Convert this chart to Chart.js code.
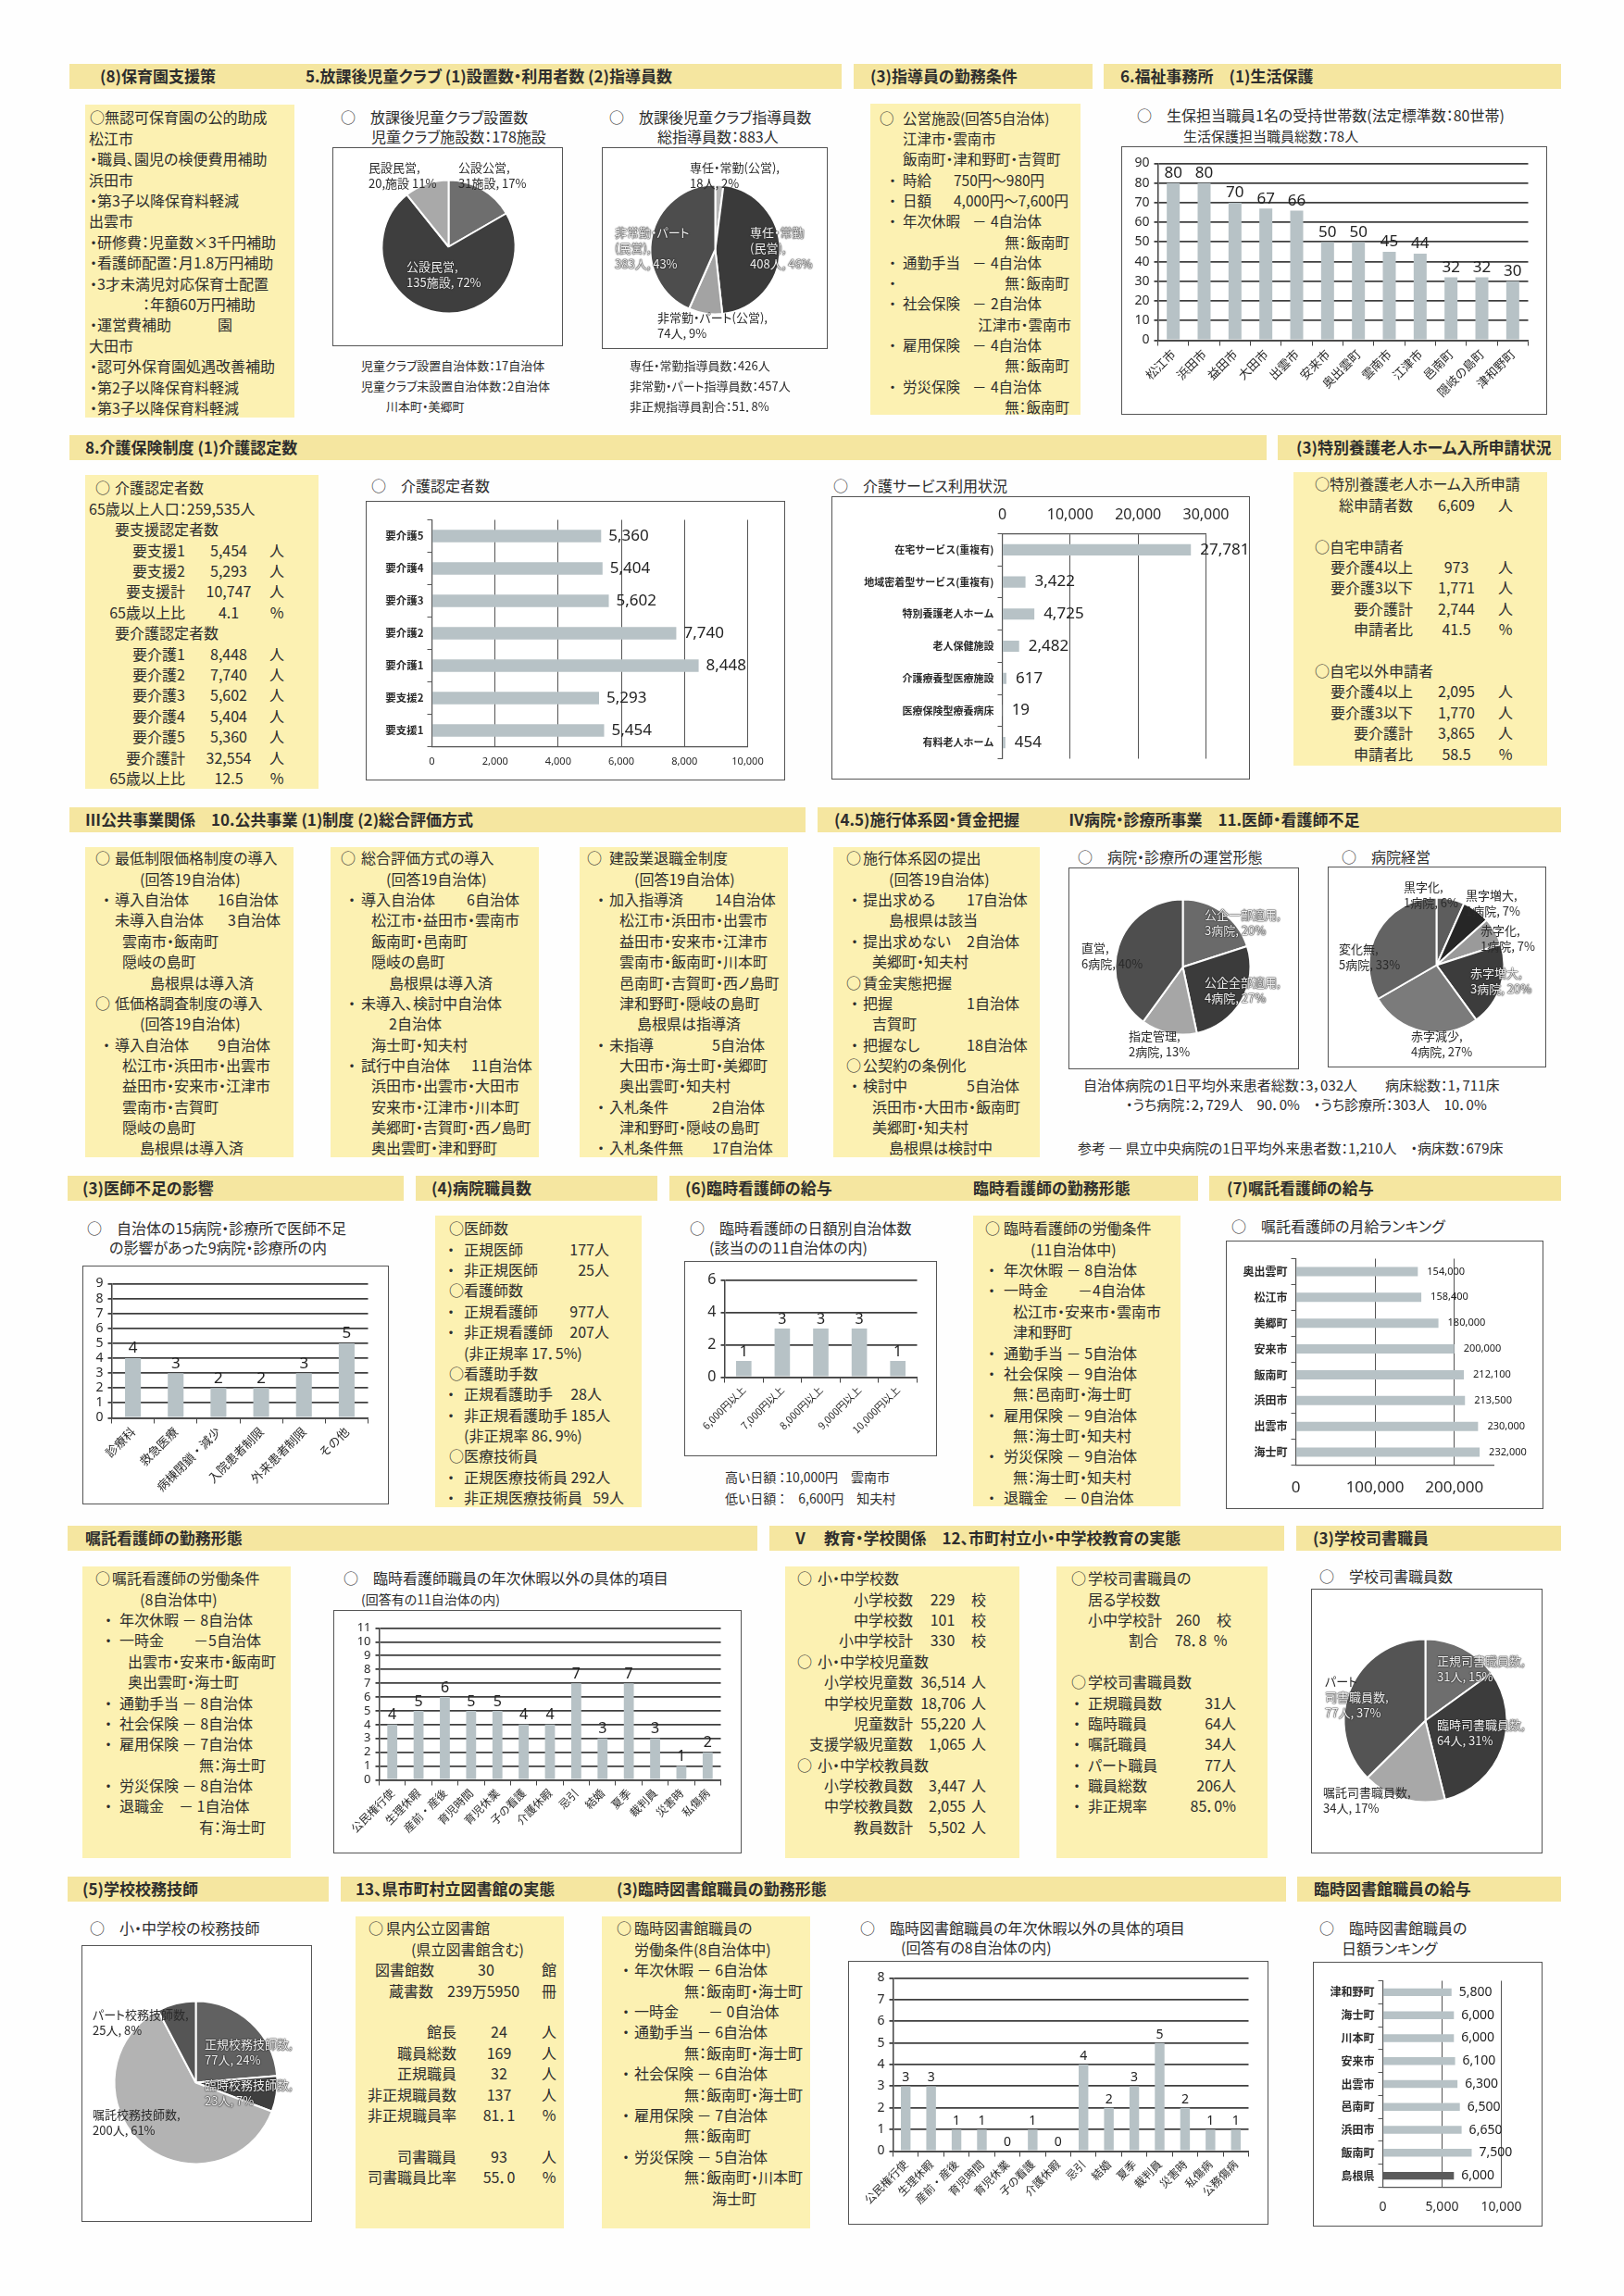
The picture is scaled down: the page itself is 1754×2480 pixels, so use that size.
<!DOCTYPE html>
<html lang="ja">
<head>
<meta charset="utf-8">
<title>自治体アンケート集計</title>
<script src="https://cdn.jsdelivr.net/npm/chart.js@4.4.1/dist/chart.umd.min.js"></script>
<style>
  html, body { margin:0; padding:0; background:#fff; }
  #page { position:relative; width:1754px; height:2480px; overflow:hidden; background:#fefefe;
          font-family:"Noto Sans CJK JP","Noto Sans",sans-serif; color:#2d2d2d; }
  .hdr { position:absolute; height:27px; background:#f5e6a0; }
  .ybox { position:absolute; background:#fcf1b2; }
  .t { position:absolute; white-space:nowrap; line-height:1.2; font-feature-settings:"palt"; }
  .cbox { position:absolute; border:1.5px solid #555; box-sizing:border-box; background:#fff; }
  .cbox canvas { display:block; }
  .pl { position:absolute; white-space:nowrap; font-size:13px; line-height:17px; font-feature-settings:"palt"; color:#2a2a2a; }
  .lt { color:#f0f0f0; text-shadow:0 0 1px #222, 0 0 1px #222, 0 0 2px #333; }
</style>
</head>
<body>
<div id="page"></div>
<script>
// ---- データ ----
const clubTypes = ['公設公営', '公設民営', '民設民営'];
const clubCounts = [31, 135, 20];
const leaderTypes = ['専任・常勤(公営)', '専任・常勤(民営)', '非常勤・パート(公営)', '非常勤・パート(民営)'];
const leaderCounts = [18, 408, 74, 383];
const welfareCities = ['松江市','浜田市','益田市','大田市','出雲市','安来市','奥出雲町','雲南市','江津市','邑南町','隠岐の島町','津和野町'];
const welfareCases = [80, 80, 70, 67, 66, 50, 50, 45, 44, 32, 32, 30];
const careLevels = ['要介護5','要介護4','要介護3','要介護2','要介護1','要支援2','要支援1'];
const careCounts = [5360, 5404, 5602, 7740, 8448, 5293, 5454];
const serviceTypes = ['在宅サービス(重複有)','地域密着型サービス(重複有)','特別養護老人ホーム','老人保健施設','介護療養型医療施設','医療保険型療養病床','有料老人ホーム'];
const serviceCounts = [27781, 3422, 4725, 2482, 617, 19, 454];
const hospForms = ['公企一部適用','公企全部適用','指定管理','直営'];
const hospFormCounts = [3, 4, 2, 6];
const hospTrends = ['黒字化','黒字増大','赤字化','赤字増大','赤字減少','変化無'];
const hospTrendCounts = [1, 1, 1, 3, 4, 5];
const shortageEffects = ['診療科','救急医療','病棟閉鎖・減少','入院患者制限','外来患者制限','その他'];
const shortageCounts = [4, 3, 2, 2, 3, 5];
const dailyPayBands = ['6,000円以上','7,000円以上','8,000円以上','9,000円以上','10,000円以上'];
const dailyPayTowns = [1, 3, 3, 3, 1];
const nurseTowns = ['奥出雲町','松江市','美郷町','安来市','飯南町','浜田市','出雲市','海士町'];
const nurseMonthly = [154000, 158400, 180000, 200000, 212100, 213500, 230000, 232000];
const leaveItems = ['公民権行使','生理休暇','産前・産後','育児時間','育児休業','子の看護','介護休暇','忌引','結婚','夏季','裁判員','災害時','私傷病'];
const nurseLeaveTowns = [4, 5, 6, 5, 5, 4, 4, 7, 3, 7, 3, 1, 2];
const librarianTypes = ['正規司書職員数','臨時司書職員数','嘱託司書職員数','パート司書職員数'];
const librarianCounts = [31, 64, 34, 77];
const custodianTypes = ['正規校務技師数','臨時校務技師数','嘱託校務技師数','パート校務技師数'];
const custodianCounts = [77, 23, 200, 25];
const libLeaveItems = ['公民権行使','生理休暇','産前・産後','育児時間','育児休業','子の看護','介護休暇','忌引','結婚','夏季','裁判員','災害時','私傷病','公務傷病'];
const libLeaveTowns = [3, 3, 1, 1, 0, 1, 0, 4, 2, 3, 5, 2, 1, 1];
const libTowns = ['津和野町','海士町','川本町','安来市','出雲市','邑南町','浜田市','飯南町','島根県'];
const libDaily = [5800, 6000, 6000, 6100, 6300, 6500, 6650, 7500, 6000];

const page = document.getElementById('page');
const BAR = '#b7c2c6';
const GRID = '#3f3f3f';
const LIGHT = 'lt';
const NUM_FONT = '"Noto Sans","Open Sans",sans-serif';

Chart.defaults.font.family = '"Noto Sans CJK JP","Noto Sans",sans-serif';
Chart.defaults.color = '#2a2a2a';
Chart.defaults.animation = false;
Chart.defaults.plugins.legend.display = false;
Chart.defaults.plugins.tooltip.enabled = false;

// 棒の先に値を書く
Chart.register({
  id: 'valueLabels',
  afterDatasetsDraw(chart, args, opt) {
    if (!opt || !opt.show) return;
    const ctx = chart.ctx;
    const ds = chart.data.datasets[0];
    const horiz = chart.options.indexAxis === 'y';
    ctx.save();
    ctx.font = opt.size + 'px ' + NUM_FONT;
    ctx.fillStyle = '#222';
    chart.getDatasetMeta(0).data.forEach((bar, i) => {
      const v = ds.data[i];
      const s = opt.comma ? v.toLocaleString('en-US') : String(v);
      if (horiz) { ctx.textAlign = 'left'; ctx.textBaseline = 'middle'; ctx.fillText(s, bar.x + opt.gap, bar.y); }
      else { ctx.textAlign = 'center'; ctx.textBaseline = 'bottom'; ctx.fillText(s, bar.x, bar.y - opt.gap); }
    });
    ctx.restore();
  }
});

function mk(cls, css, html) {
  const d = document.createElement('div');
  d.className = cls;
  Object.assign(d.style, css);
  if (html != null) d.innerHTML = html;
  page.appendChild(d);
  return d;
}
function txt(x, y, s, fs = 16, align = 'l', extra = {}) {
  const css = Object.assign({ top: (y - fs * 0.6) + 'px', fontSize: fs + 'px' }, extra);
  if (align === 'r') css.right = (1754 - x) + 'px';
  else if (align === 'c') { css.left = x + 'px'; css.transform = 'translateX(-50%)'; }
  else css.left = x + 'px';
  return mk('t', css, s);
}
function block(y0, dy, fs, lines) {
  lines.forEach((segs, i) => {
    if (!segs) return;
    segs.forEach(([x, s, a]) => txt(x, y0 + dy * i, s, fs, a || 'l'));
  });
}
function hdr(x, y, w, items) {
  mk('hdr', { left: x + 'px', top: y + 'px', width: w + 'px' });
  items.forEach(([tx, s]) => txt(tx, y + 13.5, s, 17, 'l', { fontWeight: 'bold' }));
}
function ybox(x, y, w, h) {
  mk('ybox', { left: x + 'px', top: y + 'px', width: w + 'px', height: h + 'px' });
}
function plabel(x, y, html, cls) {
  mk('pl' + (cls ? ' ' + cls : ''), { left: x + 'px', top: (y - 8.5) + 'px' }, html);
}
function chartBox(b) {
  const d = mk('cbox', { left: b[0] + 'px', top: b[1] + 'px', width: b[2] + 'px', height: b[3] + 'px' });
  const cv = document.createElement('canvas');
  const iw = b[2] - 3, ih = b[3] - 3;
  cv.width = iw; cv.height = ih;
  cv.style.width = iw + 'px'; cv.style.height = ih + 'px';
  d.appendChild(cv);
  return { cv, ox: b[0] + 1.5, oy: b[1] + 1.5, iw, ih };
}

// 縦棒（b = 枠, p = 描画域 [x0,y0,x1,y1]）
function vbar(b, p, labels, values, o) {
  const { cv, ox, oy, iw, ih } = chartBox(b);
  return new Chart(cv, {
    type: 'bar',
    data: { labels, datasets: [{ data: values, backgroundColor: BAR, barPercentage: o.bp, categoryPercentage: 1 }] },
    options: {
      responsive: false,
      layout: { padding: { left: 0, bottom: 0, top: p[1] - oy, right: ox + iw - p[2] } },
      scales: {
        x: {
          grid: { offset: true, drawOnChartArea: false, color: '#444', tickLength: 6 },
          border: { color: '#444', width: 1.5 },
          ticks: { autoSkip: false, minRotation: 45, maxRotation: 45, padding: 1, font: { size: o.xfs } },
          afterFit: s => { s.height = oy + ih - p[3]; }
        },
        y: {
          min: 0, max: o.max,
          ticks: { stepSize: o.step, autoSkip: false, padding: 5, font: { size: o.yfs, family: NUM_FONT } },
          grid: { color: GRID, lineWidth: 1.8, tickLength: 4 },
          border: { color: '#444', width: 1.5 },
          afterFit: s => { s.width = p[0] - ox; }
        }
      },
      plugins: { valueLabels: { show: true, size: o.vfs, gap: 2 } }
    }
  });
}

// 横棒
function hbar(b, p, labels, values, o) {
  const { cv, ox, oy, iw, ih } = chartBox(b);
  const top = !!o.top;
  return new Chart(cv, {
    type: 'bar',
    data: { labels, datasets: [{ data: values, backgroundColor: o.colors || BAR, barPercentage: o.bp, categoryPercentage: 1 }] },
    options: {
      indexAxis: 'y', responsive: false,
      layout: { padding: { left: 0, right: ox + iw - p[2], top: top ? 0 : p[1] - oy, bottom: top ? oy + ih - p[3] : 0 } },
      scales: {
        x: {
          position: top ? 'top' : 'bottom', min: 0, max: o.max,
          ticks: { stepSize: o.step, padding: o.tpad, font: { size: o.xfs, family: NUM_FONT }, callback: v => v.toLocaleString('en-US') },
          grid: { color: '#555', lineWidth: 1, drawTicks: false },
          border: { color: '#555', width: 1.2 },
          afterBuildTicks: s => { s.ticks = s.ticks.filter(t => t.value % o.grid === 0); },
          afterFit: s => { s.height = top ? p[1] - oy : oy + ih - p[3]; }
        },
        y: {
          grid: { offset: true, drawOnChartArea: false, color: '#555', tickLength: 5 },
          border: { color: '#555', width: 1.2 },
          ticks: { autoSkip: false, padding: 4, font: { size: o.yfs, weight: 'bold' } },
          afterFit: s => { s.width = p[0] - ox; }
        }
      },
      plugins: { valueLabels: { show: true, size: o.vfs, gap: o.gap || 8, comma: true } }
    }
  });
}

// 円グラフ（c = 中心, r = 半径）
function pie(b, c, r, labels, values, colors) {
  const { cv, ox, oy, iw, ih } = chartBox(b);
  const R = r + 1;
  return new Chart(cv, {
    type: 'pie',
    data: { labels, datasets: [{ data: values, backgroundColor: colors, borderColor: '#fff', borderWidth: 2, hoverOffset: 0 }] },
    options: {
      responsive: false,
      layout: { padding: { left: c[0] - R - ox, right: ox + iw - c[0] - R, top: c[1] - R - oy, bottom: oy + ih - c[1] - R } }
    }
  });
}

// ===== 1段目 =====
hdr(75, 69, 834, [[108, '(8)保育園支援策'], [330, '5.放課後児童クラブ (1)設置数・利用者数 (2)指導員数']]);
hdr(922, 69, 258, [[940, '(3)指導員の勤務条件']]);
hdr(1192, 69, 494, [[1210, '6.福祉事務所　(1)生活保護']]);

ybox(92, 113, 226, 338);
block(127, 22.4, 16, [
  [[97, '○無認可保育園の公的助成']],
  [[96, '松江市']],
  [[97, '・職員、園児の検便費用補助']],
  [[96, '浜田市']],
  [[97, '・第3子以降保育料軽減']],
  [[96, '出雲市']],
  [[97, '・研修費：児童数×3千円補助']],
  [[97, '・看護師配置：月1.8万円補助']],
  [[97, '・3才未満児対応保育士配置']],
  [[154, '：年額60万円補助']],
  [[97, '・運営費補助'], [235, '園']],
  [[96, '大田市']],
  [[97, '・認可外保育園処遇改善補助']],
  [[97, '・第2子以降保育料軽減']],
  [[97, '・第3子以降保育料軽減']]
]);

txt(368, 127, '○　放課後児童クラブ設置数');
txt(401, 148, '児童クラブ施設数：178施設');
pie([359, 159, 249, 215], [485, 267], 72, clubTypes, clubCounts, ['#6e6e6e', '#3e3e3e', '#a9a9a9']);
plabel(398, 180, '民設民営,<br>20,施設 11%');
plabel(495, 180, '公設公営,<br>31施設, 17%');
plabel(439, 287, '公設民営,<br>135施設, 72%', LIGHT);
block(395, 22, 13, [[[390, '児童クラブ設置自治体数：17自治体']], [[390, '児童クラブ未設置自治体数：2自治体']], [[417, '川本町・美郷町']]]);

txt(658, 127, '○　放課後児童クラブ指導員数');
txt(710, 148, '総指導員数：883人');
pie([650, 159, 244, 218], [773, 270], 70, leaderTypes, leaderCounts, ['#b5b5b5', '#3a3a3a', '#a3a3a3', '#4d4d4d']);
plabel(745, 180, '専任・常勤(公営),<br>18人, 2%');
plabel(664, 250, '非常勤・パート<br>(民営),<br>383人, 43%', LIGHT);
plabel(810, 250, '専任・常勤<br>(民営),<br>408人, 46%', LIGHT);
plabel(710, 342, '非常勤・パート(公営),<br>74人, 9%');
block(395, 22, 13, [[[680, '専任・常勤指導員数：426人']], [[680, '非常勤・パート指導員数：457人']], [[680, '非正規指導員割合：51．8%']]]);

ybox(940, 112, 227, 336);
block(127, 22.3, 15.5, [
  [[950, '○'], [975, '公営施設(回答5自治体)']],
  [[975, '江津市・雲南市']],
  [[975, '飯南町・津和野町・吉賀町']],
  [[960, '・'], [975, '時給'], [1030, '750円～980円']],
  [[960, '・'], [975, '日額'], [1030, '4,000円～7,600円']],
  [[960, '・'], [975, '年次休暇'], [1050, '－'], [1070, '4自治体']],
  [[1155, '無：飯南町', 'r']],
  [[960, '・'], [975, '通勤手当'], [1050, '－'], [1070, '4自治体']],
  [[960, '・'], [1155, '無：飯南町', 'r']],
  [[960, '・'], [975, '社会保険'], [1050, '－'], [1070, '2自治体']],
  [[1157, '江津市・雲南市', 'r']],
  [[960, '・'], [975, '雇用保険'], [1050, '－'], [1070, '4自治体']],
  [[1155, '無：飯南町', 'r']],
  [[960, '・'], [975, '労災保険'], [1050, '－'], [1070, '4自治体']],
  [[1155, '無：飯南町', 'r']]
]);

txt(1228, 125, '○　生保担当職員1名の受持世帯数(法定標準数：80世帯)');
txt(1278, 147, '生活保護担当職員総数：78人', 15);
vbar([1211, 158, 460, 290], [1251, 177, 1651, 368], welfareCities, welfareCases, { max: 90, step: 10, bp: 0.42, xfs: 13, yfs: 14, vfs: 17 });

// ===== 2段目 =====
hdr(75, 470, 1293, [[92, '8.介護保険制度 (1)介護認定数']]);
hdr(1380, 470, 306, [[1400, '(3)特別養護老人ホーム入所申請状況']]);

ybox(92, 513, 252, 339);
block(527, 22.4, 16, [
  [[103, '○'], [124, '介護認定者数']],
  [[96, '65歳以上人口：259,535人']],
  [[124, '要支援認定者数']],
  [[200, '要支援1', 'r'], [247, '5,454', 'c'], [299, '人', 'c']],
  [[200, '要支援2', 'r'], [247, '5,293', 'c'], [299, '人', 'c']],
  [[200, '要支援計', 'r'], [247, '10,747', 'c'], [299, '人', 'c']],
  [[200, '65歳以上比', 'r'], [247, '4.1', 'c'], [299, '%', 'c']],
  [[124, '要介護認定者数']],
  [[200, '要介護1', 'r'], [247, '8,448', 'c'], [299, '人', 'c']],
  [[200, '要介護2', 'r'], [247, '7,740', 'c'], [299, '人', 'c']],
  [[200, '要介護3', 'r'], [247, '5,602', 'c'], [299, '人', 'c']],
  [[200, '要介護4', 'r'], [247, '5,404', 'c'], [299, '人', 'c']],
  [[200, '要介護5', 'r'], [247, '5,360', 'c'], [299, '人', 'c']],
  [[200, '要介護計', 'r'], [247, '32,554', 'c'], [299, '人', 'c']],
  [[200, '65歳以上比', 'r'], [247, '12.5', 'c'], [299, '%', 'c']]
]);

txt(401, 525, '○　介護認定者数');
hbar([395, 541, 453, 302], [467, 562, 808, 807], careLevels, careCounts,
  { max: 10000, step: 2000, grid: 2000, bp: 0.38, xfs: 11, yfs: 11.5, vfs: 17, tpad: 10, gap: 8 });

txt(900, 525, '○　介護サービス利用状況');
hbar([898, 536, 452, 306], [1083, 577, 1303, 820], serviceTypes, serviceCounts,
  { top: true, max: 30000, step: 10000, grid: 10000, bp: 0.35, xfs: 16, yfs: 11, vfs: 17, tpad: 10, gap: 10 });

ybox(1397, 510, 274, 317);
block(523, 22.4, 16, [
  [[1420, '○特別養護老人ホーム入所申請']],
  [[1526, '総申請者数', 'r'], [1573, '6,609', 'c'], [1626, '人', 'c']],
  null,
  [[1420, '○自宅申請者']],
  [[1526, '要介護4以上', 'r'], [1573, '973', 'c'], [1626, '人', 'c']],
  [[1526, '要介護3以下', 'r'], [1573, '1,771', 'c'], [1626, '人', 'c']],
  [[1526, '要介護計', 'r'], [1573, '2,744', 'c'], [1626, '人', 'c']],
  [[1526, '申請者比', 'r'], [1573, '41.5', 'c'], [1626, '%', 'c']],
  null,
  [[1420, '○自宅以外申請者']],
  [[1526, '要介護4以上', 'r'], [1573, '2,095', 'c'], [1626, '人', 'c']],
  [[1526, '要介護3以下', 'r'], [1573, '1,770', 'c'], [1626, '人', 'c']],
  [[1526, '要介護計', 'r'], [1573, '3,865', 'c'], [1626, '人', 'c']],
  [[1526, '申請者比', 'r'], [1573, '58.5', 'c'], [1626, '%', 'c']]
]);

// ===== 3段目 =====
hdr(75, 872, 795, [[92, 'Ⅲ公共事業関係　10.公共事業 (1)制度 (2)総合評価方式']]);
hdr(883, 872, 803, [[901, '(4.5)施行体系図・賃金把握'], [1154, 'Ⅳ病院・診療所事業　11.医師・看護師不足']]);

ybox(92, 915, 225, 335);
block(927, 22.35, 16, [
  [[103, '○'], [124, '最低制限価格制度の導入']],
  [[151, '(回答19自治体)']],
  [[111, '・'], [124, '導入自治体'], [235, '16自治体']],
  [[124, '未導入自治体'], [246, '3自治体']],
  [[132, '雲南市・飯南町']],
  [[132, '隠岐の島町']],
  [[162, '島根県は導入済']],
  [[103, '○'], [124, '低価格調査制度の導入']],
  [[151, '(回答19自治体)']],
  [[111, '・'], [124, '導入自治体'], [235, '9自治体']],
  [[132, '松江市・浜田市・出雲市']],
  [[132, '益田市・安来市・江津市']],
  [[132, '雲南市・吉賀町']],
  [[132, '隠岐の島町']],
  [[151, '島根県は導入済']]
]);

ybox(357, 915, 225, 335);
block(927, 22.35, 16, [
  [[368, '○'], [390, '総合評価方式の導入']],
  [[417, '(回答19自治体)']],
  [[376, '・'], [390, '導入自治体'], [504, '6自治体']],
  [[401, '松江市・益田市・雲南市']],
  [[401, '飯南町・邑南町']],
  [[401, '隠岐の島町']],
  [[420, '島根県は導入済']],
  [[376, '・'], [390, '未導入、検討中自治体']],
  [[420, '2自治体']],
  [[401, '海士町・知夫村']],
  [[376, '・'], [390, '試行中自治体'], [509, '11自治体']],
  [[401, '浜田市・出雲市・大田市']],
  [[401, '安来市・江津市・川本町']],
  [[401, '美郷町・吉賀町・西ノ島町']],
  [[401, '奥出雲町・津和野町']]
]);

ybox(626, 915, 225, 335);
block(927, 22.35, 16, [
  [[634, '○'], [658, '建設業退職金制度']],
  [[685, '(回答19自治体)']],
  [[645, '・'], [658, '加入指導済'], [772, '14自治体']],
  [[669, '松江市・浜田市・出雲市']],
  [[669, '益田市・安来市・江津市']],
  [[669, '雲南市・飯南町・川本町']],
  [[669, '邑南町・吉賀町・西ノ島町']],
  [[669, '津和野町・隠岐の島町']],
  [[688, '島根県は指導済']],
  [[645, '・'], [658, '未指導'], [769, '5自治体']],
  [[669, '大田市・海士町・美郷町']],
  [[669, '奥出雲町・知夫村']],
  [[645, '・'], [658, '入札条件'], [769, '2自治体']],
  [[669, '津和野町・隠岐の島町']],
  [[645, '・'], [658, '入札条件無'], [769, '17自治体']]
]);

ybox(900, 915, 223, 335);
block(927, 22.35, 16, [
  [[914, '○'], [932, '施行体系図の提出']],
  [[960, '(回答19自治体)']],
  [[919, '・'], [932, '提出求める'], [1044, '17自治体']],
  [[960, '島根県は該当']],
  [[919, '・'], [932, '提出求めない'], [1044, '2自治体']],
  [[942, '美郷町・知夫村']],
  [[914, '○'], [932, '賃金実態把握']],
  [[919, '・'], [932, '把握'], [1044, '1自治体']],
  [[942, '吉賀町']],
  [[919, '・'], [932, '把握なし'], [1044, '18自治体']],
  [[914, '○'], [932, '公契約の条例化']],
  [[919, '・'], [932, '検討中'], [1044, '5自治体']],
  [[942, '浜田市・大田市・飯南町']],
  [[942, '美郷町・知夫村']],
  [[960, '島根県は検討中']]
]);

txt(1164, 926, '○　病院・診療所の運営形態');
pie([1154, 937, 249, 218], [1278, 1045], 73, hospForms, hospFormCounts, ['#6a6a6a', '#3b3b3b', '#a6a6a6', '#4e4e4e']);
plabel(1301, 987, '公企一部適用,<br>3病院, 20%', LIGHT);
plabel(1168, 1023, '直営,<br>6病院, 40%');
plabel(1301, 1060, '公企全部適用,<br>4病院, 27%', LIGHT);
plabel(1219, 1118, '指定管理,<br>2病院, 13%');

txt(1449, 926, '○　病院経営');
pie([1434, 936, 236, 217], [1552, 1043], 73, hospTrends, hospTrendCounts, ['#5d5d5d', '#262626', '#9a9a9a', '#3c3c3c', '#7b7b7b', '#636363']);
plabel(1516, 957, '黒字化,<br>1病院, 6%');
plabel(1583, 966, '黒字増大,<br>1病院, 7%');
plabel(1599, 1004, '赤字化,<br>1病院, 7%');
plabel(1446, 1024, '変化無,<br>5病院, 33%');
plabel(1588, 1050, '赤字増大,<br>3病院, 20%', LIGHT);
plabel(1524, 1118, '赤字減少,<br>4病院, 27%');

txt(1170, 1172, '自治体病院の1日平均外来患者総数：3，032人　　病床総数：1，711床', 15);
txt(1216, 1193, '・うち病院：2，729人　90．0%　・うち診療所：303人　10．0%', 15);
txt(1164, 1240, '参考 ― 県立中央病院の1日平均外来患者数：1,210人　・病床数：679床', 15);

// ===== 4段目 =====
hdr(73, 1270, 363, [[89, '(3)医師不足の影響']]);
hdr(449, 1270, 261, [[466, '(4)病院職員数']]);
hdr(723, 1270, 571, [[740, '(6)臨時看護師の給与'], [1051, '臨時看護師の勤務形態']]);
hdr(1306, 1270, 380, [[1325, '(7)嘱託看護師の給与']]);

txt(94, 1327, '○　自治体の15病院・診療所で医師不足');
txt(118, 1348, 'の影響があった9病院・診療所の内');
vbar([89, 1367, 331, 258], [121, 1387, 398, 1532], shortageEffects, shortageCounts, { max: 9, step: 1, bp: 0.37, xfs: 13, yfs: 14, vfs: 17 });

ybox(470, 1313, 223, 315);
block(1327, 22.35, 16, [
  [[485, '○'], [501, '医師数']],
  [[483, '・'], [501, '正規医師'], [658, '177人', 'r']],
  [[483, '・'], [501, '非正規医師'], [658, '25人', 'r']],
  [[485, '○'], [501, '看護師数']],
  [[483, '・'], [501, '正規看護師'], [658, '977人', 'r']],
  [[483, '・'], [501, '非正規看護師'], [658, '207人', 'r']],
  [[501, '(非正規率 17．5%)']],
  [[485, '○'], [501, '看護助手数']],
  [[483, '・'], [501, '正規看護助手'], [650, '28人', 'r']],
  [[483, '・'], [501, '非正規看護助手 185人']],
  [[501, '(非正規率 86．9%)']],
  [[485, '○'], [501, '医療技術員']],
  [[483, '・'], [501, '正規医療技術員 292人']],
  [[483, '・'], [501, '非正規医療技術員'], [674, '59人', 'r']]
]);

txt(745, 1327, '○　臨時看護師の日額別自治体数');
txt(766, 1348, '(該当のの11自治体の内)');
vbar([739, 1362, 273, 211], [783, 1383, 991, 1488], dailyPayBands, dailyPayTowns, { max: 6, step: 2, bp: 0.4, xfs: 11, yfs: 16, vfs: 16 });
txt(783, 1595, '高い日額 ：10,000円　雲南市', 14);
txt(783, 1618, '低い日額 ：　6,600円　知夫村', 14);

ybox(1051, 1313, 224, 314);
block(1327, 22.35, 16, [
  [[1064, '○'], [1084, '臨時看護師の労働条件']],
  [[1113, '(11自治体中)']],
  [[1067, '・'], [1084, '年次休暇 － 8自治体']],
  [[1067, '・'], [1084, '一時金　　－4自治体']],
  [[1094, '松江市・安来市・雲南市']],
  [[1094, '津和野町']],
  [[1067, '・'], [1084, '通勤手当 － 5自治体']],
  [[1067, '・'], [1084, '社会保険 － 9自治体']],
  [[1094, '無：邑南町・海士町']],
  [[1067, '・'], [1084, '雇用保険 － 9自治体']],
  [[1094, '無：海士町・知夫村']],
  [[1067, '・'], [1084, '労災保険 － 9自治体']],
  [[1094, '無：海士町・知夫村']],
  [[1067, '・'], [1084, '退職金　－ 0自治体']]
]);

txt(1330, 1325, '○　嘱託看護師の月給ランキング');
hbar([1324, 1340, 343, 290], [1400, 1360, 1614, 1583], nurseTowns, nurseMonthly,
  { max: 250000, step: 50000, grid: 100000, bp: 0.36, xfs: 17, yfs: 12, vfs: 11, tpad: 14, gap: 10 });

// ===== 5段目 =====
hdr(73, 1648, 745, [[92, '嘱託看護師の勤務形態']]);
hdr(831, 1648, 556, [[856, 'Ⅴ　教育・学校関係　12、市町村立小・中学校教育の実態']]);
hdr(1400, 1648, 286, [[1418, '(3)学校司書職員']]);

ybox(89, 1692, 225, 315);
block(1705, 22.35, 16, [
  [[103, '○'], [121, '嘱託看護師の労働条件']],
  [[151, '(8自治体中)']],
  [[113, '・'], [129, '年次休暇 － 8自治体']],
  [[113, '・'], [129, '一時金　　－5自治体']],
  [[138, '出雲市・安来市・飯南町']],
  [[138, '奥出雲町・海士町']],
  [[113, '・'], [129, '通勤手当 － 8自治体']],
  [[113, '・'], [129, '社会保険 － 8自治体']],
  [[113, '・'], [129, '雇用保険 － 7自治体']],
  [[215, '無：海士町']],
  [[113, '・'], [129, '労災保険 － 8自治体']],
  [[113, '・'], [129, '退職金　－ 1自治体']],
  [[215, '有：海士町']]
]);

txt(371, 1705, '○　臨時看護師職員の年次休暇以外の具体的項目');
txt(390, 1727, '(回答有の11自治体の内)', 14);
vbar([360, 1739, 441, 263], [410, 1759, 779, 1923], leaveItems, nurseLeaveTowns, { max: 11, step: 1, bp: 0.38, xfs: 12, yfs: 13, vfs: 16 });

ybox(848, 1692, 253, 315);
block(1705, 22.35, 16, [
  [[861, '○'], [883, '小・中学校数']],
  [[986, '小学校数', 'r'], [1018, '229', 'c'], [1057, '校', 'c']],
  [[986, '中学校数', 'r'], [1018, '101', 'c'], [1057, '校', 'c']],
  [[986, '小中学校計', 'r'], [1018, '330', 'c'], [1057, '校', 'c']],
  [[861, '○'], [883, '小・中学校児童数']],
  [[986, '小学校児童数', 'r'], [1043, '36,514', 'r'], [1057, '人', 'c']],
  [[986, '中学校児童数', 'r'], [1043, '18,706', 'r'], [1057, '人', 'c']],
  [[986, '児童数計', 'r'], [1043, '55,220', 'r'], [1057, '人', 'c']],
  [[986, '支援学級児童数', 'r'], [1043, '1,065', 'r'], [1057, '人', 'c']],
  [[861, '○'], [883, '小・中学校教員数']],
  [[986, '小学校教員数', 'r'], [1043, '3,447', 'r'], [1057, '人', 'c']],
  [[986, '中学校教員数', 'r'], [1043, '2,055', 'r'], [1057, '人', 'c']],
  [[986, '教員数計', 'r'], [1043, '5,502', 'r'], [1057, '人', 'c']]
]);

ybox(1141, 1692, 228, 315);
block(1705, 22.35, 16, [
  [[1157, '○'], [1175, '学校司書職員の']],
  [[1175, '居る学校数']],
  [[1175, '小中学校計'], [1283, '260', 'c'], [1322, '校', 'c']],
  [[1251, '割合', 'r'], [1286, '78．8', 'c'], [1318, '%', 'c']],
  null,
  [[1157, '○'], [1175, '学校司書職員数']],
  [[1159, '・'], [1175, '正規職員数'], [1335, '31人', 'r']],
  [[1159, '・'], [1175, '臨時職員'], [1335, '64人', 'r']],
  [[1159, '・'], [1175, '嘱託職員'], [1335, '34人', 'r']],
  [[1159, '・'], [1175, 'パート職員'], [1335, '77人', 'r']],
  [[1159, '・'], [1175, '職員総数'], [1335, '206人', 'r']],
  [[1159, '・'], [1175, '非正規率'], [1335, '85．0%', 'r']]
]);

txt(1425, 1703, '○　学校司書職員数');
pie([1416, 1716, 250, 286], [1540, 1859], 88, librarianTypes, librarianCounts, ['#6e6e6e', '#3c3c3c', '#a8a8a8', '#545454']);
plabel(1552, 1793, '正規司書職員数,<br>31人, 15%', LIGHT);
plabel(1431, 1815, 'パート<br><span class="lt">司書職員数,<br>77人, 37%</span>');
plabel(1552, 1862, '臨時司書職員数,<br>64人, 31%', LIGHT);
plabel(1429, 1935, '嘱託司書職員数,<br>34人, 17%');

// ===== 6段目 =====
hdr(73, 2027, 282, [[89, '(5)学校校務技師']]);
hdr(368, 2027, 1021, [[384, '13、県市町村立図書館の実態'], [666, '(3)臨時図書館職員の勤務形態']]);
hdr(1401, 2027, 285, [[1419, '臨時図書館職員の給与']]);

txt(97, 2083, '○　小・中学校の校務技師');
pie([88, 2101, 249, 299], [212, 2250], 88, custodianTypes, custodianCounts, ['#616161', '#3f3f3f', '#b3b3b3', '#555555']);
plabel(100, 2175, 'パート校務技師数,<br>25人, 8%');
plabel(221, 2207, '正規校務技師数,<br>77人, 24%', LIGHT);
plabel(221, 2251, '臨時校務技師数,<br>23人, 7%', LIGHT);
plabel(100, 2283, '嘱託校務技師数,<br>200人, 61%');

ybox(384, 2070, 225, 337);
block(2083, 22.4, 16, [
  [[398, '○'], [417, '県内公立図書館']],
  [[444, '(県立図書館含む)']],
  [[405, '図書館数'], [525, '30', 'c'], [593, '館', 'c']],
  [[420, '蔵書数'], [483, '239万5950'], [593, '冊', 'c']],
  null,
  [[493, '館長', 'r'], [539, '24', 'c'], [593, '人', 'c']],
  [[493, '職員総数', 'r'], [539, '169', 'c'], [593, '人', 'c']],
  [[493, '正規職員', 'r'], [539, '32', 'c'], [593, '人', 'c']],
  [[493, '非正規職員数', 'r'], [539, '137', 'c'], [593, '人', 'c']],
  [[493, '非正規職員率', 'r'], [539, '81．1', 'c'], [593, '%', 'c']],
  null,
  [[493, '司書職員', 'r'], [539, '93', 'c'], [593, '人', 'c']],
  [[493, '司書職員比率', 'r'], [539, '55．0', 'c'], [593, '%', 'c']]
]);

ybox(650, 2070, 225, 337);
block(2083, 22.4, 16, [
  [[666, '○'], [685, '臨時図書館職員の']],
  [[685, '労働条件(8自治体中)']],
  [[672, '・'], [685, '年次休暇 － 6自治体']],
  [[739, '無：飯南町・海士町']],
  [[672, '・'], [685, '一時金　　－ 0自治体']],
  [[672, '・'], [685, '通勤手当 － 6自治体']],
  [[739, '無：飯南町・海士町']],
  [[672, '・'], [685, '社会保険 － 6自治体']],
  [[739, '無：飯南町・海士町']],
  [[672, '・'], [685, '雇用保険 － 7自治体']],
  [[739, '無：飯南町']],
  [[672, '・'], [685, '労災保険 － 5自治体']],
  [[739, '無：飯南町・川本町']],
  [[769, '海士町']]
]);

txt(929, 2083, '○　臨時図書館職員の年次休暇以外の具体的項目');
txt(973, 2104, '(回答有の8自治体の内)');
vbar([916, 2118, 454, 285], [965, 2137, 1349, 2324], libLeaveItems, libLeaveTowns, { max: 8, step: 1, bp: 0.38, xfs: 12, yfs: 14, vfs: 14 });

txt(1425, 2083, '○　臨時図書館職員の');
txt(1449, 2105, '日額ランキング');
hbar([1418, 2119, 248, 286], [1494, 2140, 1622, 2363], libTowns, libDaily,
  { max: 10000, step: 5000, grid: 5000, bp: 0.34, xfs: 14, yfs: 12, vfs: 14, tpad: 13, gap: 8,
    colors: libTowns.map(t => t === '島根県' ? '#5b5b5b' : BAR) });
</script>
</body>
</html>
